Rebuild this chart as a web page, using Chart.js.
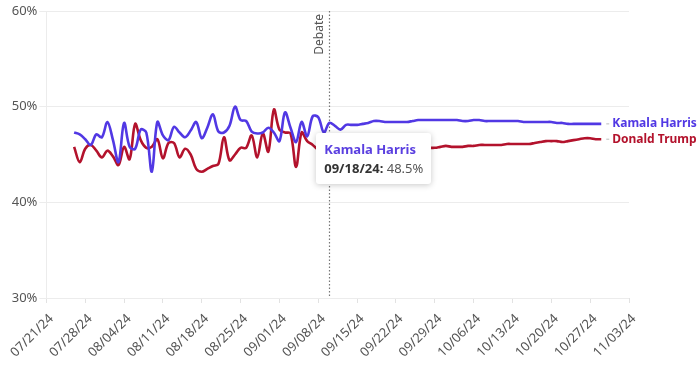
<!DOCTYPE html>
<html>
<head>
<meta charset="utf-8">
<script src="https://cdn.jsdelivr.net/npm/chart.js@4.4.1/dist/chart.umd.min.js"></script>
<style>
  html,body{margin:0;padding:0;background:#fff;}
  #wrap{position:relative;width:700px;height:365px;}
  #tip{position:absolute;background:#fff;border-radius:3px;box-shadow:0 1px 6px rgba(0,0,0,0.22);
       padding:7px 8px 6px 8px;font-family:"Noto Sans",sans-serif;font-size:13px;line-height:19px;
       white-space:nowrap;pointer-events:none;opacity:0;}
  #tip .t{color:#5a3fe0;font-weight:700;}
  #tip .d{color:#333;font-weight:700;}
  #tip .v{color:#555;}
</style>
</head>
<body>
<div id="wrap">
  <canvas id="chart" width="700" height="365"></canvas>
  <div id="tip"></div>
</div>
<script>
// polling averages, one value per day starting 07/26/24 (day 5 after 07/21/24)
const axisStart = [2024, 6, 21];   // 07/21/24 = day 0 on the x axis
const firstDay = 5;                // 07/26/24
const debateDay = 51;              // 09/10/24
const tooltipDay = 59;             // 09/18/24

const harris = [
  47.3, 47.1, 46.6, 46.0, 47.1, 46.8, 48.4, 46.5, 44.2, 48.3,
  45.8, 45.6, 47.6, 47.3, 43.2, 48.4, 47.0, 46.5, 47.9, 47.3,
  46.8, 47.5, 48.4, 46.7, 47.8, 49.2, 47.4, 47.3, 48.0, 50.0,
  48.6, 48.5, 47.4, 47.2, 47.3, 47.8, 47.3, 46.4, 49.4, 47.8,
  46.3, 48.4, 46.9, 49.0, 48.9, 47.3, 48.3, 48.0, 47.6, 48.1,
  48.1, 48.1, 48.2, 48.3, 48.5, 48.5, 48.4, 48.4, 48.4, 48.4,
  48.4, 48.5, 48.6, 48.6, 48.6, 48.6, 48.6, 48.6, 48.6, 48.6,
  48.5, 48.5, 48.6, 48.6, 48.5, 48.5, 48.5, 48.5, 48.5, 48.5,
  48.5, 48.4, 48.4, 48.4, 48.4, 48.4, 48.4, 48.3, 48.3, 48.2,
  48.2, 48.2, 48.2, 48.2, 48.2, 48.2
];
const trump = [
  45.8, 44.2, 45.6, 46.0, 45.4, 44.7, 45.4, 44.8, 43.9, 45.8,
  44.5, 48.2, 46.5, 45.7, 45.8, 46.6, 44.6, 46.2, 46.2, 44.7,
  45.6, 45.0, 43.5, 43.2, 43.5, 43.8, 44.0, 46.8, 44.4, 45.0,
  45.7, 45.7, 47.0, 44.7, 47.2, 45.3, 49.7, 47.6, 47.3, 47.2,
  43.7, 47.3, 46.4, 46.0, 45.5, 45.3, 45.4, 45.5, 45.6, 45.6,
  45.6, 45.6, 45.7, 45.7, 45.7, 45.7, 45.7, 45.7, 45.7, 45.7,
  45.7, 45.7, 45.7, 45.7, 45.7, 45.7, 45.8, 45.9, 45.8, 45.8,
  45.8, 45.9, 45.9, 46.0, 46.0, 46.0, 46.0, 46.0, 46.1, 46.1,
  46.1, 46.1, 46.1, 46.2, 46.3, 46.4, 46.4, 46.4, 46.3, 46.4,
  46.5, 46.6, 46.7, 46.7, 46.6, 46.6
];
const seriesNames = ['Kamala Harris', 'Donald Trump'];
const seriesColors = ['#5138e4', '#b3122c'];
const yTicks = [30, 40, 50, 60];

function dayLabel(d){
  const dt = new Date(axisStart[0], axisStart[1], axisStart[2] + d);
  const p = n => String(n).padStart(2,'0');
  return `${p(dt.getMonth()+1)}/${p(dt.getDate())}/${String(dt.getFullYear()).slice(2)}`;
}
const toPoints = arr => arr.map((v,i)=>({x:firstDay+i, y:v}));

// debate marker
const debatePlugin = {
  id:'debate',
  beforeDatasetsDraw(chart){
    const {ctx, chartArea, scales} = chart;
    const x = Math.round(scales.x.getPixelForValue(debateDay)) + 0.5;
    ctx.save();
    ctx.strokeStyle = '#777';
    ctx.lineWidth = 1.2;
    ctx.setLineDash([1.5,2]);
    ctx.beginPath(); ctx.moveTo(x, chartArea.top); ctx.lineTo(x, chartArea.bottom); ctx.stroke();
    ctx.setLineDash([]);
    ctx.translate(x - 4, chartArea.top + 3);
    ctx.rotate(-Math.PI/2);
    ctx.fillStyle = '#555';
    ctx.font = '12px "Noto Sans", sans-serif';
    ctx.textAlign = 'right';
    ctx.textBaseline = 'bottom';
    ctx.fillText('Debate', 0, 0);
    ctx.restore();
  }
};

// series names at the end of each line
const endLabelPlugin = {
  id:'endLabels',
  afterDatasetsDraw(chart){
    const {ctx} = chart;
    chart.data.datasets.forEach((ds, i)=>{
      const meta = chart.getDatasetMeta(i);
      const pt = meta.data[meta.data.length-1];
      ctx.save();
      ctx.strokeStyle = '#bbb';
      ctx.lineWidth = 1;
      ctx.beginPath(); ctx.moveTo(pt.x+5, pt.y); ctx.lineTo(pt.x+8, pt.y); ctx.stroke();
      ctx.fillStyle = ds.borderColor;
      ctx.font = 'bold 12px "Noto Sans", sans-serif';
      ctx.textBaseline = 'middle';
      ctx.fillText(ds.label, pt.x+11, pt.y);
      ctx.restore();
    });
  }
};

function externalTip(context){
  const el = document.getElementById('tip');
  const t = context.tooltip;
  if(t.opacity === 0 || !t.dataPoints || !t.dataPoints.length){ el.style.opacity = 0; return; }
  const dp = t.dataPoints[0];
  el.innerHTML = `<div class="t">${dp.dataset.label}</div>` +
    `<div><span class="d">${dayLabel(dp.parsed.x)}:</span> <span class="v">${dp.parsed.y.toFixed(1)}%</span></div>`;
  el.style.opacity = 1;
  const w = el.offsetWidth;
  el.style.left = (t.caretX - w/2) + 'px';
  el.style.top = (t.caretY + 12) + 'px';
}

const chart = new Chart(document.getElementById('chart'), {
  type:'line',
  data:{
    datasets:[
      {label:seriesNames[0], data:toPoints(harris), borderColor:seriesColors[0]},
      {label:seriesNames[1], data:toPoints(trump), borderColor:seriesColors[1]}
    ]
  },
  options:{
    responsive:false,
    animation:false,
    layout:{padding:{top:11, right:71, left:0, bottom:0}},
    elements:{
      line:{borderWidth:2.6, tension:0.35},
      point:{radius:0, hoverRadius:0, hitRadius:4}
    },
    plugins:{
      legend:{display:false},
      tooltip:{enabled:false, external:externalTip, mode:'nearest', intersect:false}
    },
    scales:{
      x:{
        type:'linear', min:0, max:105,
        afterBuildTicks(scale){ scale.ticks = []; for(let d=0; d<=105; d+=7) scale.ticks.push({value:d}); },
        afterFit(scale){ scale.height = 67; },
        grid:{drawOnChartArea:false, drawTicks:true, tickLength:5, color:'#e2e2e2'},
        border:{display:false},
        ticks:{
          autoSkip:false, maxRotation:45, minRotation:45, padding:8, labelOffset:5,
          color:'#555', font:{family:'"Noto Sans", sans-serif', size:13},
          callback:v=>dayLabel(v)
        }
      },
      y:{
        min:30, max:60,
        afterBuildTicks(scale){ scale.ticks = yTicks.map(v=>({value:v})); },
        afterFit(scale){ scale.width = 46; },
        grid:{color:'#ececec', tickLength:7},
        border:{color:'#ececec'},
        ticks:{color:'#555', padding:2, font:{family:'"Noto Sans", sans-serif', size:13}, callback:v=>v+'%'}
      }
    }
  },
  plugins:[debatePlugin, endLabelPlugin]
});

// show the tooltip for Harris on 09/18/24
const idx = tooltipDay - firstDay;
const el0 = chart.getDatasetMeta(0).data[idx];
chart.tooltip.setActiveElements([{datasetIndex:0, index:idx}], {x:el0.x, y:el0.y});
chart.update();
</script>
</body>
</html>
